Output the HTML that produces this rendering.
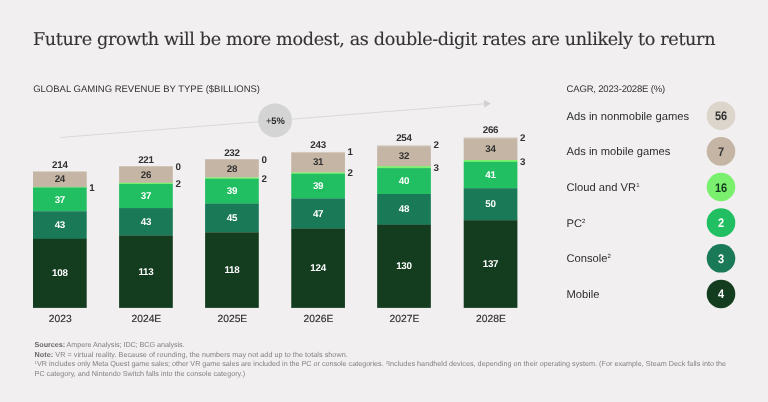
<!DOCTYPE html>
<html lang="en">
<head>
<meta charset="utf-8">
<title>Future growth will be more modest, as double-digit rates are unlikely to return</title>
<style>
html,body{margin:0;padding:0;}
body{width:768px;height:402px;overflow:hidden;background:#f1eff0;font-family:"Liberation Sans",Arial,sans-serif;color:#323232;position:relative;text-rendering:geometricPrecision;}
#wrap{position:absolute;left:0;top:0;width:768px;height:402px;}
.abs{position:absolute;white-space:nowrap;line-height:1;}
h1{margin:0;font-family:"DejaVu Serif","Liberation Serif",serif;font-weight:normal;font-size:17.6px;letter-spacing:-0.335px;color:#333;-webkit-text-stroke:0.12px #333;}
.sub{font-size:9.5px;letter-spacing:0px;color:#343434;}
.v{position:absolute;font-weight:bold;font-size:9.8px;letter-spacing:-0.25px;line-height:10px;height:10px;text-align:center;white-space:nowrap;}
.w{color:#fff;}
.yr{position:absolute;font-size:10.3px;line-height:12px;text-align:center;white-space:nowrap;color:#2e2e2e;-webkit-text-stroke:0.15px #2e2e2e;}
.lg{position:absolute;font-size:11.2px;line-height:14px;white-space:nowrap;left:566.5px;color:#2e2e2e;}
.lg sup{font-size:6px;line-height:0;vertical-align:baseline;position:relative;top:-4px;}
.dot{position:absolute;width:30px;height:28px;left:706px;font-weight:bold;font-size:12.5px;line-height:28px;text-align:center;transform:scaleX(0.88);transform-origin:50% 50%;}
.fn{position:absolute;left:34.6px;font-size:7.2px;line-height:9.6px;color:#828282;white-space:nowrap;}
.fn b{color:#686868;}
.fn sup{font-size:4.2px;line-height:0;vertical-align:2.4px;}
</style>
</head>
<body>
<div id="wrap">
<h1 class="abs" style="left:33px;top:32px;">Future growth will be more modest, as double-digit rates are unlikely to return</h1>
<div class="abs sub" style="left:33.2px;top:85px;">GLOBAL GAMING REVENUE BY TYPE ($BILLIONS)</div>
<div class="abs sub" style="left:566.6px;top:85px;letter-spacing:-0.18px;">CAGR, 2023-2028E (%)</div>
<svg class="abs" style="left:0;top:0;" width="768" height="402" viewBox="0 0 768 402">
<line x1="60" y1="137.5" x2="485" y2="103.8" stroke="#d0d0d0" stroke-width="0.7"/>
<polygon points="484,100 490.8,103.4 484.3,107.4" fill="#d0d0d0"/>
<circle cx="275.1" cy="120.35" r="16.95" fill="#d4d4d4"/>
<rect x="33.00" y="171.50" width="53.7" height="15.56" fill="#c5b5a4"/>
<rect x="33.00" y="186.86" width="53.7" height="0.84" fill="#7bef6e"/>
<rect x="33.00" y="187.50" width="53.7" height="23.96" fill="#21bf61"/>
<rect x="33.00" y="211.26" width="53.7" height="27.72" fill="#1a7a57"/>
<rect x="33.00" y="238.78" width="53.7" height="69.12" fill="#143d20"/>
<rect x="119.10" y="166.25" width="53.7" height="16.67" fill="#c5b5a4"/>
<rect x="119.10" y="182.72" width="53.7" height="1.48" fill="#7bef6e"/>
<rect x="119.10" y="184.00" width="53.7" height="24.26" fill="#21bf61"/>
<rect x="119.10" y="208.06" width="53.7" height="27.72" fill="#1a7a57"/>
<rect x="119.10" y="235.58" width="53.7" height="72.32" fill="#143d20"/>
<rect x="205.10" y="159.25" width="53.7" height="18.42" fill="#c5b5a4"/>
<rect x="205.10" y="177.47" width="53.7" height="1.48" fill="#7bef6e"/>
<rect x="205.10" y="178.75" width="53.7" height="25.03" fill="#21bf61"/>
<rect x="205.10" y="203.58" width="53.7" height="29.00" fill="#1a7a57"/>
<rect x="205.10" y="232.38" width="53.7" height="75.52" fill="#143d20"/>
<rect x="291.25" y="151.90" width="53.7" height="0.84" fill="#dcd5cc"/>
<rect x="291.25" y="152.54" width="53.7" height="20.13" fill="#c5b5a4"/>
<rect x="291.25" y="172.47" width="53.7" height="1.48" fill="#7bef6e"/>
<rect x="291.25" y="173.75" width="53.7" height="24.91" fill="#21bf61"/>
<rect x="291.25" y="198.46" width="53.7" height="30.28" fill="#1a7a57"/>
<rect x="291.25" y="228.54" width="53.7" height="79.36" fill="#143d20"/>
<rect x="377.15" y="145.00" width="53.7" height="1.45" fill="#dcd5cc"/>
<rect x="377.15" y="146.25" width="53.7" height="20.13" fill="#c5b5a4"/>
<rect x="377.15" y="166.18" width="53.7" height="2.12" fill="#7bef6e"/>
<rect x="377.15" y="168.10" width="53.7" height="26.08" fill="#21bf61"/>
<rect x="377.15" y="193.98" width="53.7" height="30.92" fill="#1a7a57"/>
<rect x="377.15" y="224.70" width="53.7" height="83.20" fill="#143d20"/>
<rect x="463.70" y="137.10" width="53.7" height="1.47" fill="#dcd5cc"/>
<rect x="463.70" y="138.37" width="53.7" height="21.81" fill="#c5b5a4"/>
<rect x="463.70" y="159.98" width="53.7" height="2.12" fill="#7bef6e"/>
<rect x="463.70" y="161.90" width="53.7" height="26.52" fill="#21bf61"/>
<rect x="463.70" y="188.22" width="53.7" height="32.20" fill="#1a7a57"/>
<rect x="463.70" y="220.22" width="53.7" height="87.68" fill="#143d20"/>
<circle cx="721" cy="115.70" r="14.3" fill="#dcd5cc"/>
<circle cx="721" cy="151.35" r="14.3" fill="#c5b5a4"/>
<circle cx="721" cy="187.00" r="14.3" fill="#7bef6e"/>
<circle cx="721" cy="222.65" r="14.3" fill="#21bf61"/>
<circle cx="721" cy="258.30" r="14.3" fill="#1a7a57"/>
<circle cx="721" cy="293.95" r="14.3" fill="#143d20"/>
</svg>
<div class="v" style="left:255.3px;width:40px;top:116px;font-size:9.4px;letter-spacing:-0.1px;color:#2a2a2a;"><span style="font-weight:normal">+</span>5%</div>
<div class="bar">
<div class="v w" style="left:33.00px;width:53.7px;top:269px;">108</div>
<div class="v w" style="left:33.00px;width:53.7px;top:221px;">43</div>
<div class="v w" style="left:33.00px;width:53.7px;top:196px;">37</div>
<div class="v " style="left:33.00px;width:53.7px;top:175px;">24</div>
<div class="v " style="left:33.00px;width:53.7px;top:161px;">214</div>
<div class="v" style="left:89.30px;top:184px;text-align:left;">1</div>
<div class="yr" style="left:23.40px;width:73.7px;top:314px;">2023</div>
</div>
<div class="bar">
<div class="v w" style="left:119.10px;width:53.7px;top:268px;">113</div>
<div class="v w" style="left:119.10px;width:53.7px;top:218px;">43</div>
<div class="v w" style="left:119.10px;width:53.7px;top:192px;">37</div>
<div class="v " style="left:119.10px;width:53.7px;top:171px;">26</div>
<div class="v " style="left:119.10px;width:53.7px;top:156px;">221</div>
<div class="v" style="left:175.40px;top:163px;text-align:left;">0</div>
<div class="v" style="left:175.40px;top:180px;text-align:left;">2</div>
<div class="yr" style="left:109.50px;width:73.7px;top:314px;">2024E</div>
</div>
<div class="bar">
<div class="v w" style="left:205.10px;width:53.7px;top:266px;">118</div>
<div class="v w" style="left:205.10px;width:53.7px;top:214px;">45</div>
<div class="v w" style="left:205.10px;width:53.7px;top:187px;">39</div>
<div class="v " style="left:205.10px;width:53.7px;top:165px;">28</div>
<div class="v " style="left:205.10px;width:53.7px;top:149px;">232</div>
<div class="v" style="left:261.40px;top:156px;text-align:left;">0</div>
<div class="v" style="left:261.40px;top:175px;text-align:left;">2</div>
<div class="yr" style="left:195.50px;width:73.7px;top:314px;">2025E</div>
</div>
<div class="bar">
<div class="v w" style="left:291.25px;width:53.7px;top:264px;">124</div>
<div class="v w" style="left:291.25px;width:53.7px;top:210px;">47</div>
<div class="v w" style="left:291.25px;width:53.7px;top:182px;">39</div>
<div class="v " style="left:291.25px;width:53.7px;top:158px;">31</div>
<div class="v " style="left:291.25px;width:53.7px;top:141px;">243</div>
<div class="v" style="left:347.55px;top:148px;text-align:left;">1</div>
<div class="v" style="left:347.55px;top:169px;text-align:left;">2</div>
<div class="yr" style="left:281.65px;width:73.7px;top:314px;">2026E</div>
</div>
<div class="bar">
<div class="v w" style="left:377.15px;width:53.7px;top:262px;">130</div>
<div class="v w" style="left:377.15px;width:53.7px;top:205px;">48</div>
<div class="v w" style="left:377.15px;width:53.7px;top:177px;">40</div>
<div class="v " style="left:377.15px;width:53.7px;top:152px;">32</div>
<div class="v " style="left:377.15px;width:53.7px;top:134px;">254</div>
<div class="v" style="left:433.45px;top:141px;text-align:left;">2</div>
<div class="v" style="left:433.45px;top:164px;text-align:left;">3</div>
<div class="yr" style="left:367.55px;width:73.7px;top:314px;">2027E</div>
</div>
<div class="bar">
<div class="v w" style="left:463.70px;width:53.7px;top:260px;">137</div>
<div class="v w" style="left:463.70px;width:53.7px;top:200px;">50</div>
<div class="v w" style="left:463.70px;width:53.7px;top:171px;">41</div>
<div class="v " style="left:463.70px;width:53.7px;top:145px;">34</div>
<div class="v " style="left:463.70px;width:53.7px;top:126px;">266</div>
<div class="v" style="left:520.00px;top:134px;text-align:left;">2</div>
<div class="v" style="left:520.00px;top:158px;text-align:left;">3</div>
<div class="yr" style="left:454.10px;width:73.7px;top:314px;">2028E</div>
</div>
<div class="lg" style="top:110px;">Ads in nonmobile games</div>
<div class="dot" style="top:102px;color:#323232;">56</div>
<div class="lg" style="top:145px;">Ads in mobile games</div>
<div class="dot" style="top:138px;color:#323232;">7</div>
<div class="lg" style="top:181px;">Cloud and VR<sup>1</sup></div>
<div class="dot" style="top:174px;color:#103b1d;">16</div>
<div class="lg" style="top:217px;">PC<sup>2</sup></div>
<div class="dot" style="top:209px;color:#fff;">2</div>
<div class="lg" style="top:252px;">Console<sup>2</sup></div>
<div class="dot" style="top:245px;color:#fff;">3</div>
<div class="lg" style="top:288px;">Mobile</div>
<div class="dot" style="top:280px;color:#fff;">4</div>
<div class="fn" style="top:340px;letter-spacing:-0.04px;"><b>Sources:</b> Ampere Analysis; IDC; BCG analysis.</div>
<div class="fn" style="top:350px;letter-spacing:0.057px;"><b>Note:</b> VR = virtual reality. Because of rounding, the numbers may not add up to the totals shown.</div>
<div class="fn" style="top:359px;letter-spacing:0.032px;"><span style="letter-spacing:-0.008px"><sup>1</sup>VR includes only Meta Quest game sales; other VR game sales are included in the PC or console categories. </span><sup>2</sup>Includes handheld devices, depending on their operating system. (For example, Steam Deck falls into the</div>
<div class="fn" style="top:369px;letter-spacing:0.015px;">PC category, and Nintendo Switch falls into the console category.)</div>
</div>
</body>
</html>
